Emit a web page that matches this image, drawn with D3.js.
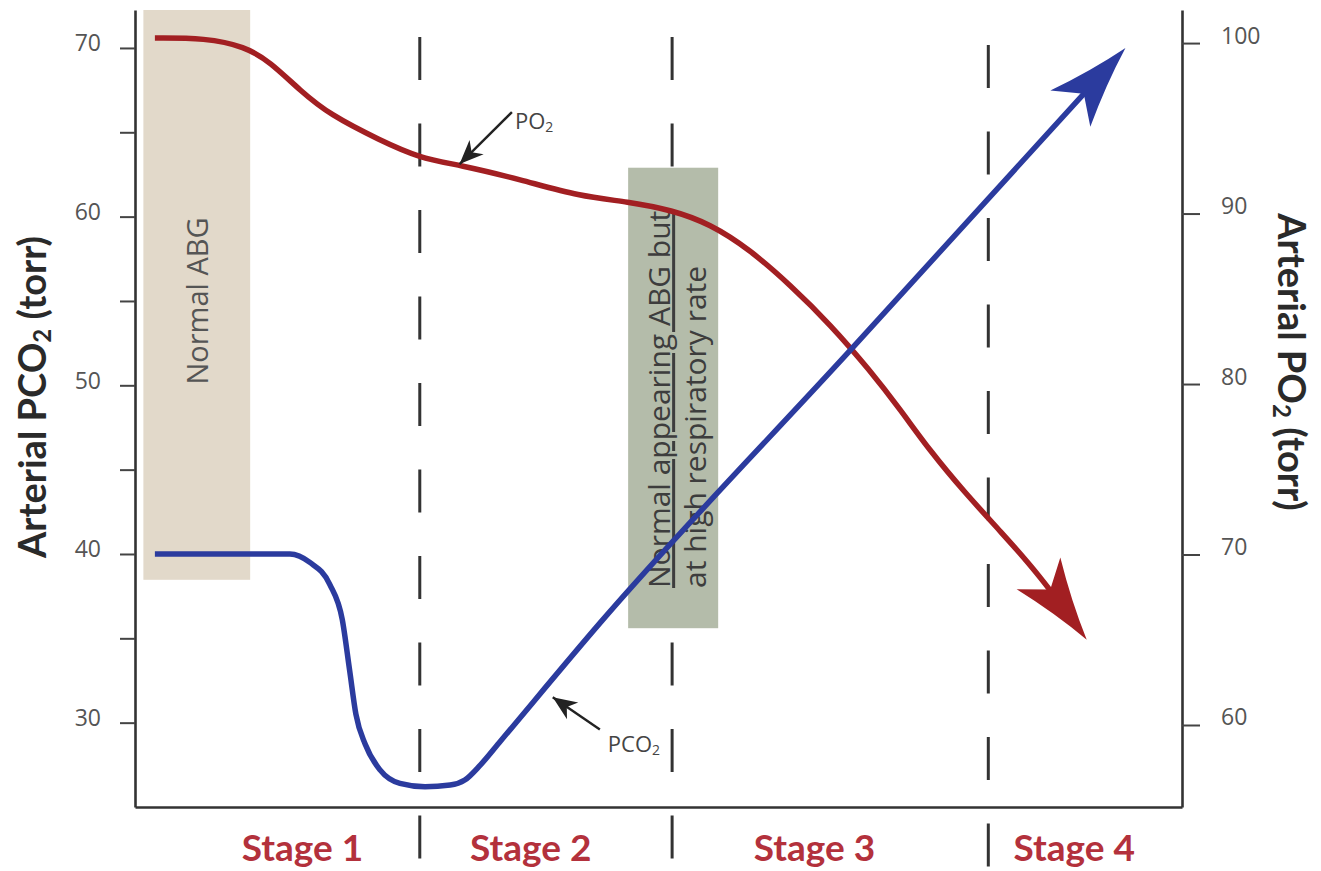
<!DOCTYPE html>
<html><head><meta charset="utf-8">
<script src="https://cdn.jsdelivr.net/npm/d3@7"></script>
<style>body{margin:0;background:#fff} svg{display:block}</style>
</head><body>
<svg id="chart" width="1321" height="871"></svg>
<script>
// ---------- data ----------
const timeDomain = [0, 100];
const pco2Domain = [25, 72.25];
const po2Domain = [55.19, 101.94];
const pco2Ticks = [30, 35, 40, 45, 50, 55, 60, 65, 70];
const pco2TickLabels = ["30", "", "40", "", "50", "", "60", "", "70"];
const po2Ticks = [60, 70, 80, 90, 100];
const po2TickLabels = ["60", "70", "80", "90", "100"];

const po2Time   = [1.9, 6.7, 10.5, 12.9, 15.8, 18.6, 23.4, 27.2, 31.0, 36.8, 42.5, 47.1, 51.3, 54.9, 58.7, 62.6, 66.4, 70.2, 73.1, 75.9, 79.3, 82.6, 86.4, 90.9];
const po2Values = [100.3, 100.3, 99.8, 98.9, 97.2, 95.8, 94.3, 93.25, 92.85, 92.0, 91.0, 90.7, 90.2, 89.4, 87.9, 85.8, 83.5, 80.8, 78.5, 76.1, 73.6, 71.4, 68.8, 65.0];

const pco2Time   = [1.9, 14.8, 16.7, 18.6, 19.8, 20.5, 21.1, 22.0, 23.4, 25.3, 27.7, 30.1, 31.5, 33.0, 34.9, 44.4, 68.5, 94.6];
const pco2Values = [40, 40, 39.5, 38.2, 36.1, 33.1, 30.5, 28.7, 27.2, 26.4, 26.2, 26.3, 26.6, 27.5, 28.9, 35.9, 52.2, 70.0];

const stageLabels = ["Stage 1", "Stage 2", "Stage 3", "Stage 4"];
const stageCenters = [16.0, 37.8, 64.9, 89.7];
const stageBoundaries = [27.2, 51.3, 81.5];

const normalBandTime = [0.8, 11.0];
const normalBandPco2 = [38.47, 72.25];
const compBandTime = [47.1, 55.7];
const compBandPco2 = [35.6, 62.9];

const po2Pointer = {tipTime: 31.0, tipVal: 92.9, tailTime: 36.0, tailVal: 95.95};
const pco2Pointer = {tipTime: 39.9, tipVal: 31.5, tailTime: 44.4, tailVal: 29.6};

// ---------- setup ----------
const svg = d3.select("#chart");
const x = d3.scaleLinear().domain(timeDomain).range([135, 1182]);
const yL = d3.scaleLinear().domain(pco2Domain).range([807, 10]);
const yR = d3.scaleLinear().domain(po2Domain).range([807, 10]);

const RED = "#a21f22", BLUE = "#2b3b9e", STAGE = "#b3313c";
const REG = "'Open Sans', 'Noto Sans', sans-serif";
const BOLD = "Lato, 'Open Sans', sans-serif";

const defs = svg.append("defs");
function bigHead(id, color) {
  defs.append("marker").attr("id", id)
    .attr("markerUnits", "userSpaceOnUse")
    .attr("viewBox", "-90 -32 96 64").attr("refX", 0).attr("refY", 0)
    .attr("markerWidth", 96).attr("markerHeight", 64).attr("orient", "auto")
    .append("path").attr("d", "M0,0 Q-40,-10 -82,-27 L-62,0 L-82,27 Q-40,10 0,0 Z").attr("fill", color);
}
bigHead("headRed", RED);
bigHead("headBlue", BLUE);
defs.append("marker").attr("id", "headSmall")
  .attr("markerUnits", "userSpaceOnUse")
  .attr("viewBox", "-26 -12 28 24").attr("refX", 0).attr("refY", 0)
  .attr("markerWidth", 28).attr("markerHeight", 24).attr("orient", "auto")
  .append("path").attr("d", "M0,0 L-24,-10 L-17,0 L-24,10 Z").attr("fill", "#222");

function subText(sel, parts, subSize) {
  parts.forEach(p => {
    if (p.sub) {
      sel.append("tspan").attr("font-size", subSize).attr("dy", "0.22em").text(p.t);
    } else {
      const t = sel.append("tspan").text(p.t);
      if (p.after) t.attr("dy", "-0.15em");
    }
  });
}

// ---------- dashed stage boundaries ----------
svg.selectAll("line.stage").data(stageBoundaries).join("line").attr("class", "stage")
  .attr("x1", d => x(d)).attr("x2", d => x(d)).attr("y1", 37).attr("y2", 871)
  .attr("stroke", "#333").attr("stroke-width", 3).attr("stroke-dasharray", "43 43.5")
  .attr("stroke-dashoffset", (d, i) => i === 2 ? -8 : 0);

// ---------- bands ----------
svg.append("rect")
  .attr("x", x(normalBandTime[0])).attr("width", x(normalBandTime[1]) - x(normalBandTime[0]))
  .attr("y", yL(normalBandPco2[1])).attr("height", yL(normalBandPco2[0]) - yL(normalBandPco2[1]))
  .attr("fill", "#e2d9ca");
svg.append("text")
  .attr("transform", `translate(${(x(normalBandTime[0]) + x(normalBandTime[1])) / 2 + 11},301) rotate(-90)`)
  .attr("text-anchor", "middle").attr("font-family", REG).attr("font-size", 29).attr("fill", "#555")
  .text("Normal ABG");

svg.append("rect")
  .attr("x", x(compBandTime[0])).attr("width", x(compBandTime[1]) - x(compBandTime[0]))
  .attr("y", yL(compBandPco2[1])).attr("height", yL(compBandPco2[0]) - yL(compBandPco2[1]))
  .attr("fill", "#b4bcaa");

const cx0 = x(compBandTime[0]);
svg.append("text")
  .attr("transform", `translate(${cx0 + 42},588) rotate(-90)`)
  .attr("font-family", REG).attr("font-size", 30).attr("fill", "#3d3d3d")
  .style("text-decoration", "underline")
  .text("Normal appearing ABG but");
svg.append("text")
  .attr("transform", `translate(${cx0 + 78},588) rotate(-90)`)
  .attr("font-family", REG).attr("font-size", 30).attr("fill", "#3d3d3d")
  .text("at high respiratory rate");

// ---------- axes ----------
const axL = svg.append("g").attr("transform", "translate(135,0)")
  .call(d3.axisLeft(yL).tickValues(pco2Ticks).tickSize(15).tickSizeOuter(0).tickPadding(19)
    .tickFormat((d, i) => pco2TickLabels[i]));
const axR = svg.append("g").attr("transform", "translate(1182,0)")
  .call(d3.axisRight(yR).tickValues(po2Ticks).tickSize(18).tickSizeOuter(0).tickPadding(21)
    .tickFormat((d, i) => po2TickLabels[i]));
const axB = svg.append("g").attr("transform", "translate(0,807)")
  .call(d3.axisBottom(x).tickValues([]).tickSizeOuter(0));
[axL, axR, axB].forEach(a => {
  a.select(".domain").attr("stroke", "#333").attr("stroke-width", 2.6);
  a.selectAll(".tick line").attr("stroke", "#444").attr("stroke-width", 2);
  a.selectAll(".tick text").attr("font-family", REG).attr("font-size", 23).attr("fill", "#555");
});
axL.selectAll(".tick text").attr("dy", "0.12em");
axR.selectAll(".tick text").attr("dy", "0em");

// axis titles
const tl = svg.append("text").attr("transform", "translate(46,397) rotate(-90)")
  .attr("text-anchor", "middle").attr("font-family", BOLD).attr("font-weight", 700)
  .attr("font-size", 38).attr("fill", "#2a2a2a");
subText(tl, [{t: "Arterial PCO"}, {t: "2", sub: true}, {t: " (torr)", after: true}], 24);
const tr = svg.append("text").attr("transform", "translate(1278,362) rotate(90)")
  .attr("text-anchor", "middle").attr("font-family", BOLD).attr("font-weight", 700)
  .attr("font-size", 38).attr("fill", "#2a2a2a");
subText(tr, [{t: "Arterial PO"}, {t: "2", sub: true}, {t: " (torr)", after: true}], 24);

// stage labels
svg.selectAll("text.stageLbl").data(stageLabels).join("text").attr("class", "stageLbl")
  .attr("x", (d, i) => x(stageCenters[i])).attr("y", 861)
  .attr("text-anchor", "middle").attr("font-family", BOLD).attr("font-weight", 700)
  .attr("font-size", 37).attr("fill", STAGE).text(d => d);

// ---------- curves ----------
const po2Pts = po2Time.map((t, i) => [t, po2Values[i]]);
const pco2Pts = pco2Time.map((t, i) => [t, pco2Values[i]]);

function drawCurve(pts, yScale, color, head, curve) {
  const line = d3.line().x(d => x(d[0])).y(d => yScale(d[1])).curve(curve);
  const p = svg.append("path").attr("d", line(pts)).attr("fill", "none")
    .attr("stroke", color).attr("stroke-width", 5.5).attr("marker-end", `url(#${head})`);
  const L = p.node().getTotalLength();
  p.attr("stroke-dasharray", `${L - 30} ${L + 40}`);
}
drawCurve(po2Pts, yR, RED, "headRed", d3.curveBasis);
drawCurve(pco2Pts, yL, BLUE, "headBlue", d3.curveMonotoneX);

// ---------- pointers ----------
function pointer(ptr, yScale, label, sub, dx, dy) {
  const x0 = x(ptr.tailTime), y0 = yScale(ptr.tailVal);
  svg.append("line").attr("x1", x0).attr("y1", y0)
    .attr("x2", x(ptr.tipTime)).attr("y2", yScale(ptr.tipVal))
    .attr("stroke", "#222").attr("stroke-width", 2.4).attr("marker-end", "url(#headSmall)");
  const t = svg.append("text").attr("x", x0 + dx).attr("y", y0 + dy)
    .attr("font-family", REG).attr("font-size", 22).attr("fill", "#444");
  subText(t, [{t: label}, {t: sub, sub: true}], 14);
}
pointer(po2Pointer, yR, "PO", "2", 3, 17);
pointer(pco2Pointer, yL, "PCO", "2", 8, 23);
</script>
</body></html>
